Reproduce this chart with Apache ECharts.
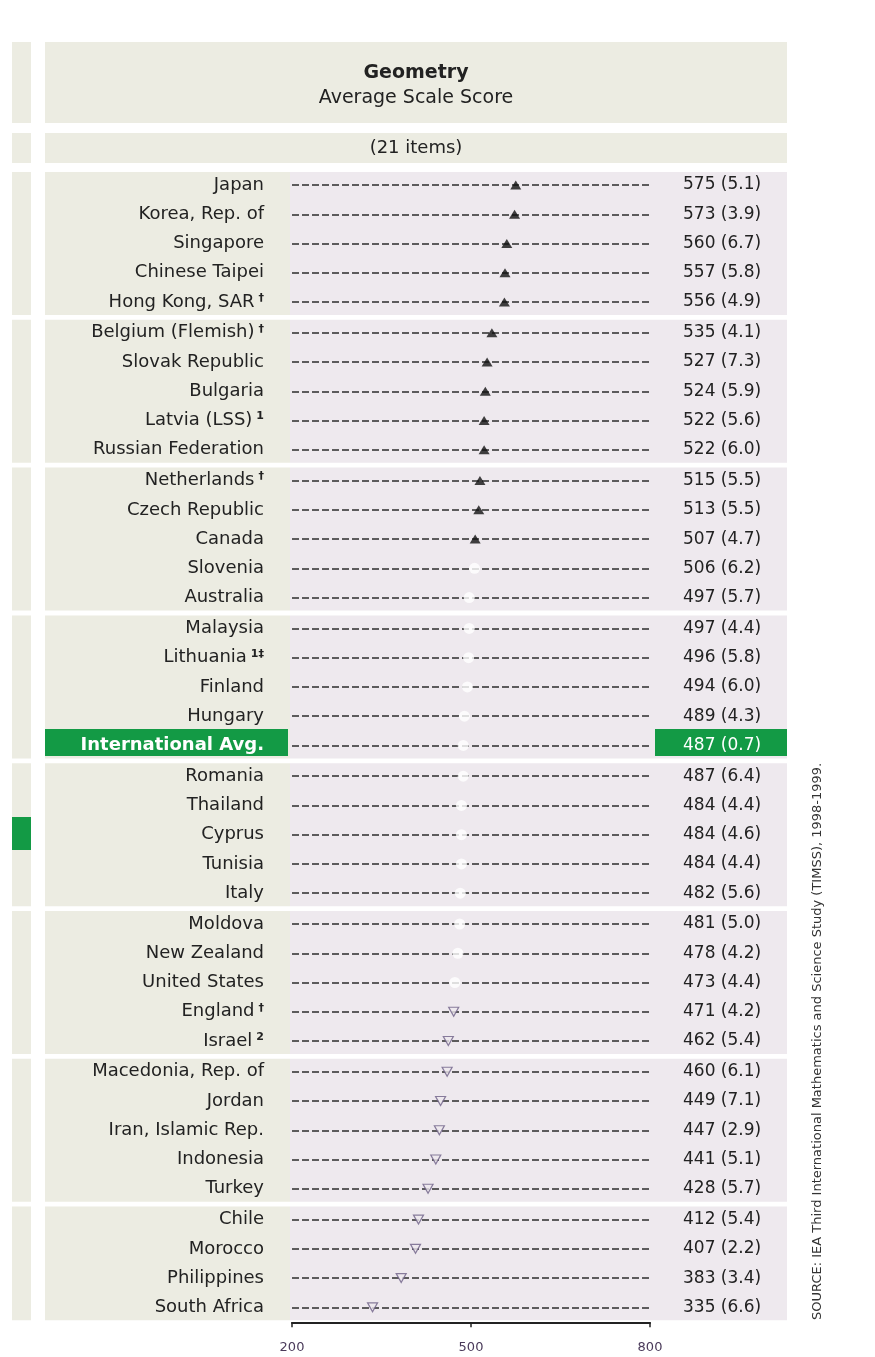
<!DOCTYPE html>
<html>
<head>
<meta charset="UTF-8">
<title>Geometry - Average Scale Score</title>
<script src="https://cdn.jsdelivr.net/npm/echarts@6/dist/echarts.min.js"></script>
<style>
  html, body { margin: 0; padding: 0; background: #fff; }
  #chart { width: 875px; height: 1357px; }
</style>
</head>
<body>
<div id="chart"></div>
<script type="text/javascript">

var countries = ['Japan', 'Korea, Rep. of', 'Singapore', 'Chinese Taipei', 'Hong Kong, SAR',
  'Belgium (Flemish)', 'Slovak Republic', 'Bulgaria', 'Latvia (LSS)', 'Russian Federation',
  'Netherlands', 'Czech Republic', 'Canada', 'Slovenia', 'Australia',
  'Malaysia', 'Lithuania', 'Finland', 'Hungary', 'International Avg.',
  'Romania', 'Thailand', 'Cyprus', 'Tunisia', 'Italy',
  'Moldova', 'New Zealand', 'United States', 'England', 'Israel',
  'Macedonia, Rep. of', 'Jordan', 'Iran, Islamic Rep.', 'Indonesia', 'Turkey',
  'Chile', 'Morocco', 'Philippines', 'South Africa'];
var notes = ['', '', '', '', '†',
  '†', '', '', '1', '',
  '†', '', '', '', '',
  '', '1‡', '', '', '',
  '', '', '', '', '',
  '', '', '', '†', '2',
  '', '', '', '', '',
  '', '', '', ''];
var scores = [575, 573, 560, 557, 556,
  535, 527, 524, 522, 522,
  515, 513, 507, 506, 497,
  497, 496, 494, 489, 487,
  487, 484, 484, 484, 482,
  481, 478, 473, 471, 462,
  460, 449, 447, 441, 428,
  412, 407, 383, 335];
var stdErrs = [5.1, 3.9, 6.7, 5.8, 4.9,
  4.1, 7.3, 5.9, 5.6, 6.0,
  5.5, 5.5, 4.7, 6.2, 5.7,
  4.4, 5.8, 6.0, 4.3, 0.7,
  6.4, 4.4, 4.6, 4.4, 5.6,
  5.0, 4.2, 4.4, 4.2, 5.4,
  6.1, 7.1, 2.9, 5.1, 5.7,
  5.4, 2.2, 3.4, 6.6];
// up = higher than avg, eq = no difference, down = lower, avg = international average
var signif = ['up', 'up', 'up', 'up', 'up',
  'up', 'up', 'up', 'up', 'up',
  'up', 'up', 'up', 'eq', 'eq',
  'eq', 'eq', 'eq', 'eq', 'avg',
  'eq', 'eq', 'eq', 'eq', 'eq',
  'eq', 'eq', 'eq', 'down', 'down',
  'down', 'down', 'down', 'down', 'down',
  'down', 'down', 'down', 'down'];
var groupSizes = [5, 5, 5, 5, 5, 5, 5, 4];
var scaleMin = 200, scaleMax = 800, scaleStep = 300;
var sourceText = 'SOURCE: IEA Third International Mathematics and Science Study (TIMSS), 1998-1999.';

// layout
var FONT = 'DejaVu Sans';
var TXT = '#222';
var GREEN = '#139a45';
var LBL_BG = '#ecece2';
var PLOT_BG = '#eee9ee';
var firstRow = 185, rowGap = 29.25, groupGap = 147.8;
var plotLeft = 292, plotWidth = 358;
var panelL = 45, panelR = 787, splitX = 290;

var myChart = echarts.init(document.getElementById('chart'));

var grids = [], xAxes = [], yAxes = [], series = [];
var graphics = [];

function band(top, bottom, twoTone) {
    // left strip + panel
    graphics.push({type: 'rect', z: 0, shape: {x: 12, y: top, width: 19, height: bottom - top}, style: {fill: LBL_BG}});
    if (twoTone) {
        graphics.push({type: 'rect', z: 0, shape: {x: panelL, y: top, width: splitX - panelL, height: bottom - top}, style: {fill: LBL_BG}});
        graphics.push({type: 'rect', z: 0, shape: {x: splitX, y: top, width: panelR - splitX, height: bottom - top}, style: {fill: PLOT_BG}});
    } else {
        graphics.push({type: 'rect', z: 0, shape: {x: panelL, y: top, width: panelR - panelL, height: bottom - top}, style: {fill: LBL_BG}});
    }
}

band(42, 123, false);
band(133, 163, false);

var start = 0;
groupSizes.forEach(function (n, g) {
    var top = firstRow + g * groupGap;
    var h = (n - 1) * rowGap;
    var last = g === groupSizes.length - 1;
    var idx = [];
    for (var i = 0; i < n; i++) idx.push(start + i);
    var s0 = start;

    band(top - 13, top + h + 13, true);

    grids.push({left: plotLeft, width: plotWidth, top: top, height: h});

    xAxes.push({
        gridIndex: g, type: 'value', min: scaleMin, max: scaleMax, interval: scaleStep,
        show: last, position: 'bottom', offset: 15, z: 10,
        axisLine: {show: true, lineStyle: {color: '#222', width: 2}},
        axisTick: {show: true, length: 5, lineStyle: {color: '#222', width: 1.5}},
        axisLabel: {show: true, margin: 19, color: '#4a3a5a', fontSize: 13, fontFamily: FONT},
        splitLine: {show: false}
    });

    // country names (left)
    yAxes.push({
        gridIndex: g, type: 'category', inverse: true, boundaryGap: false, z: 10,
        data: idx.map(function (k) { return countries[k]; }),
        axisLine: {show: false}, axisTick: {show: false},
        splitLine: {show: true, interval: 0, lineStyle: {type: [7, 3], color: '#2c2c2c', width: 1.5}},
        axisLabel: {
            interval: 0, margin: 28, fontFamily: FONT,
            formatter: function (v, i) {
                var k = s0 + i;
                if (signif[k] === 'avg') return '{avg|' + countries[k] + '}';
                return '{n|' + countries[k] + '}' + (notes[k] ? '{s|' + notes[k] + '}' : '');
            },
            rich: {
                n: {fontSize: 18, color: TXT, fontFamily: FONT},
                s: {fontSize: 11, color: TXT, fontWeight: 'bold', fontFamily: FONT, verticalAlign: 'top', padding: [0, 0, 8, 4]},
                avg: {fontSize: 18, color: '#fff', fontWeight: 'bold', fontFamily: FONT}
            }
        }
    });

    // score (s.e.) (right)
    yAxes.push({
        gridIndex: g, type: 'category', inverse: true, boundaryGap: false, position: 'right', z: 10,
        data: idx.map(function (k) { return countries[k]; }),
        axisLine: {show: false}, axisTick: {show: false}, splitLine: {show: false},
        axisLabel: {
            interval: 0, margin: 33, fontFamily: FONT,
            formatter: function (v, i) {
                var k = s0 + i;
                var t = scores[k] + ' (' + stdErrs[k].toFixed(1) + ')';
                return signif[k] === 'avg' ? '{avg|' + t + '}' : '{n|' + t + '}';
            },
            rich: {
                n: {fontSize: 17, color: TXT, fontFamily: FONT},
                avg: {fontSize: 17, color: '#fff', fontFamily: FONT}
            }
        }
    });

    series.push({
        type: 'scatter', xAxisIndex: g, yAxisIndex: g * 2, z: 12,
        data: idx.map(function (k, i) {
            var st = signif[k];
            var item = {value: [scores[k], i]};
            if (st === 'up') {
                item.symbol = 'triangle'; item.symbolSize = [11, 9];
                item.itemStyle = {color: '#111'};
            } else if (st === 'down') {
                item.symbol = 'triangle'; item.symbolSize = [10, 9]; item.symbolRotate = 180;
                item.itemStyle = {color: PLOT_BG, borderColor: '#6d5f86', borderWidth: 1.2};
            } else {
                item.symbol = 'circle'; item.symbolSize = 11;
                item.itemStyle = {color: '#fff'};
            }
            return item;
        })
    });

    // green highlight for the international average row
    idx.forEach(function (k, i) {
        if (signif[k] === 'avg') {
            var y = top + i * rowGap;
            graphics.push({type: 'rect', z: 1, shape: {x: panelL, y: y - 16.5, width: 243, height: 27}, style: {fill: GREEN}});
            graphics.push({type: 'rect', z: 1, shape: {x: 655, y: y - 16.5, width: panelR - 655, height: 27}, style: {fill: GREEN}});
        }
    });

    start += n;
});

// small green marker in left strip
graphics.push({type: 'rect', z: 1, shape: {x: 12, y: 817, width: 19, height: 33}, style: {fill: GREEN}});

// titles
graphics.push({type: 'text', z: 5, x: 416, y: 73, style: {text: 'Geometry', fontSize: 19, fontWeight: 'bold', fontFamily: FONT, fill: TXT, align: 'center', verticalAlign: 'middle'}});
graphics.push({type: 'text', z: 5, x: 416, y: 98, style: {text: 'Average Scale Score', fontSize: 19, fontFamily: FONT, fill: TXT, align: 'center', verticalAlign: 'middle'}});
graphics.push({type: 'text', z: 5, x: 416, y: 148, style: {text: '(21 items)', fontSize: 18, fontFamily: FONT, fill: TXT, align: 'center', verticalAlign: 'middle'}});

// source note, reading bottom to top
graphics.push({type: 'text', z: 5, x: 818, y: 1320, rotation: Math.PI / 2,
    style: {text: sourceText, fontSize: 13, fontFamily: FONT, fill: '#333', align: 'left', verticalAlign: 'middle'}});

var option = {
    animation: false,
    backgroundColor: '#fff',
    grid: grids,
    xAxis: xAxes,
    yAxis: yAxes,
    series: series,
    graphic: {elements: graphics}
};
myChart.setOption(option, true);
window.onresize = myChart.resize;
</script>
</body>
</html>
